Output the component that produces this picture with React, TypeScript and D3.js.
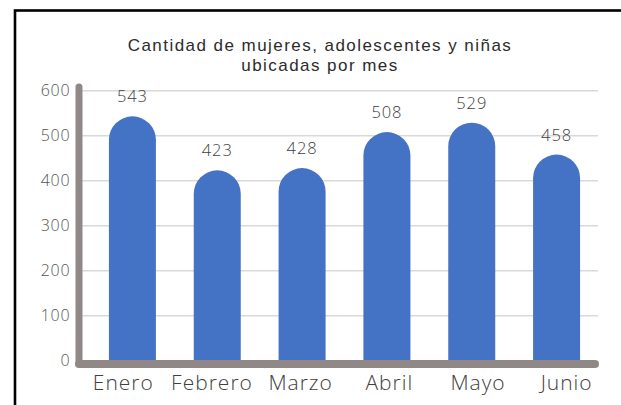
import React from "react";
import * as d3 from "d3";

const categories = ["Enero", "Febrero", "Marzo", "Abril", "Mayo", "Junio"];
const values = [543, 423, 428, 508, 529, 458];
const yTicks = [0, 100, 200, 300, 400, 500, 600];
const titleLines = ["Cantidad de mujeres, adolescentes y niñas", "ubicadas por mes"];

const W = 621;
const H = 405;
const FONT = "'Open Sans', 'DejaVu Sans', sans-serif";
const TITLE_FONT = "'Liberation Sans', Arial, sans-serif";

export default function App() {
  const x = d3
    .scaleBand<string>()
    .domain(categories)
    .range([90, 599])
    .paddingInner(0.446)
    .paddingOuter(0.223);
  const xLabel = d3.scaleBand<string>().domain(categories).range([79, 611]);
  const y = d3.scaleLinear().domain([0, 600]).range([360.7, 90.7]);
  const bw = x.bandwidth();
  const r = bw / 2;

  const barPath = (c: string, v: number) => {
    const x0 = x(c)!;
    const top = y(v);
    const base = y(0) + 4;
    return `M${x0},${base} L${x0},${top + r} A${r},${r} 0 0 1 ${x0 + bw},${top + r} L${x0 + bw},${base} Z`;
  };

  return (
    <svg
      width={W}
      height={H}
      style={{ position: "absolute", left: 0, top: 0, background: "#fff" }}
      fontFamily={FONT}
    >
      <rect x={15} y={10.5} width={W + 20} height={H + 20} fill="#fff" stroke="#000" strokeWidth={2.6} />
      {titleLines.map((t, i) => (
        <text
          key={i}
          x={320}
          y={50.5 + i * 20}
          textAnchor="middle"
          fontSize={17}
          fill="#2b2b2b"
          letterSpacing={1.45}
          fontFamily={TITLE_FONT}
        >
          {t}
        </text>
      ))}
      {yTicks.map((t) => (
        <g key={t}>
          {t > 0 && (
            <line x1={82} x2={598} y1={y(t)} y2={y(t)} stroke="#d9d9d9" strokeWidth={1.5} />
          )}
          <text x={70.5} y={y(t)} dy="0.36em" textAnchor="end" fontSize={16} fill="#555555" fontWeight={300} letterSpacing={0.8}>
            {t}
          </text>
        </g>
      ))}
      {categories.map((c, i) => (
        <g key={c}>
          <path d={barPath(c, values[i])} fill="#4472C4" />
          <text
            x={x(c)! + bw / 2}
            y={y(values[i]) - 14}
            textAnchor="middle"
            fontSize={16.5}
            fill="#404040"
            fontWeight={300}
            letterSpacing={0.9}
          >
            {values[i]}
          </text>
          <text
            x={xLabel(c)! + xLabel.bandwidth() / 2}
            y={390}
            textAnchor="middle"
            fontSize={21}
            fill="#404040"
            fontWeight={300}
            letterSpacing={1}
          >
            {c}
          </text>
        </g>
      ))}
      <line x1={79} x2={79} y1={87} y2={364} stroke="#908886" strokeWidth={7} strokeLinecap="round" />
      <line x1={79} x2={595} y1={364} y2={364} stroke="#908886" strokeWidth={8} strokeLinecap="round" />
    </svg>
  );
}
